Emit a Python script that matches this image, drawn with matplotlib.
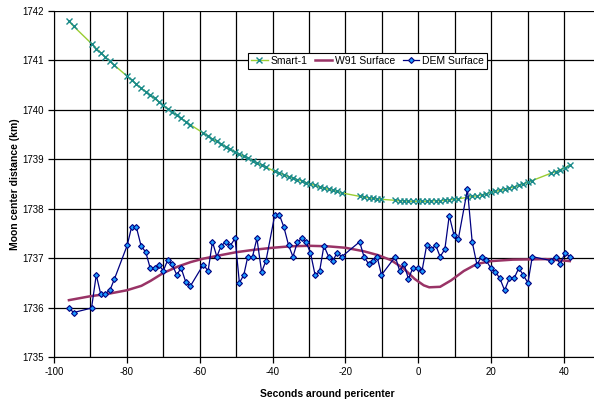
import numpy as np
import matplotlib.pyplot as plt

plt.rcParams['font.family'] = ['Liberation Sans', 'DejaVu Sans']
plt.rcParams['axes.unicode_minus'] = False

# sample times (s) shared by Smart-1 and DEM
t = [-95.9, -94.6,
     -89.7, -88.4, -87.2, -85.9, -84.6, -83.4,
     -79.9, -78.7, -77.4, -76.1, -74.8, -73.6, -72.4, -71.2, -70.0, -68.8,
     -67.6, -66.3, -65.1, -63.8, -62.6,
     -59.0, -57.7, -56.5, -55.3, -54.1, -52.8, -51.6, -50.3, -49.1, -47.9,
     -46.8, -45.5, -44.3, -43.0, -41.8,
     -39.4, -38.1, -36.9, -35.6, -34.4, -33.2, -32.0, -30.8, -29.6, -28.3,
     -27.1, -25.9, -24.6, -23.4, -22.3, -21.0,
     -16.1, -14.9, -13.6, -12.4, -11.3, -10.1,
     -6.3, -5.1, -3.9, -2.7, -1.5, -0.2, 1.0, 2.3, 3.6, 4.8, 6.0, 7.3, 8.5,
     9.8, 11.0,
     13.5, 14.8, 16.1, 17.4, 18.6, 19.9, 21.2, 22.4, 23.7, 25.0, 26.3, 27.6,
     28.8, 30.1, 31.3,
     36.5, 37.7, 39.0, 40.3, 41.6]

smart1 = [1741.79, 1741.69,
          1741.34, 1741.24, 1741.16, 1741.07, 1740.98, 1740.90,
          1740.68, 1740.60, 1740.52, 1740.44, 1740.37, 1740.30, 1740.23, 1740.16, 1740.09, 1740.02,
          1739.96, 1739.89, 1739.83, 1739.76, 1739.70,
          1739.53, 1739.47, 1739.41, 1739.36, 1739.31, 1739.25, 1739.20, 1739.15, 1739.10, 1739.06,
          1739.02, 1738.97, 1738.93, 1738.88, 1738.84,
          1738.76, 1738.72, 1738.69, 1738.65, 1738.62, 1738.59, 1738.56, 1738.53, 1738.50, 1738.47,
          1738.44, 1738.42, 1738.39, 1738.37, 1738.35, 1738.32,
          1738.25, 1738.24, 1738.22, 1738.21, 1738.20, 1738.19,
          1738.17, 1738.16, 1738.16, 1738.15, 1738.15, 1738.15, 1738.15, 1738.15, 1738.16, 1738.16,
          1738.16, 1738.17, 1738.18, 1738.19, 1738.20,
          1738.23, 1738.25, 1738.26, 1738.28, 1738.30, 1738.33, 1738.35, 1738.37, 1738.39, 1738.42,
          1738.44, 1738.47, 1738.50, 1738.54, 1738.57,
          1738.72, 1738.75, 1738.79, 1738.83, 1738.88]

dem = [1735.99, 1735.90,
       1735.99, 1736.66, 1736.28, 1736.28, 1736.36, 1736.58,
       1737.26, 1737.63, 1737.63, 1737.25, 1737.12, 1736.80, 1736.80, 1736.87, 1736.74, 1736.96,
       1736.88, 1736.66, 1736.80, 1736.51, 1736.43,
       1736.87, 1736.74, 1737.33, 1737.03, 1737.25, 1737.33, 1737.25, 1737.40, 1736.50, 1736.66,
       1737.03, 1737.03, 1737.40, 1736.72, 1736.95,
       1737.87, 1737.87, 1737.63, 1737.26, 1737.03, 1737.32, 1737.40, 1737.32, 1737.11, 1736.65,
       1736.73, 1737.25, 1737.03, 1736.95, 1737.11, 1737.03,
       1737.33, 1737.03, 1736.88, 1736.95, 1737.03, 1736.66,
       1737.03, 1736.74, 1736.88, 1736.58, 1736.80, 1736.80, 1736.73, 1737.26, 1737.18, 1737.26,
       1737.03, 1737.18, 1737.86, 1737.47, 1737.39,
       1738.39, 1737.33, 1736.87, 1737.03, 1736.96, 1736.80, 1736.72, 1736.59, 1736.35, 1736.59,
       1736.59, 1736.80, 1736.66, 1736.50, 1737.03,
       1736.95, 1737.03, 1736.88, 1737.11, 1737.03]

# W91 reference surface
t_w91 = [-95.9, -90, -85, -80, -76, -73.5, -70, -66, -62.5, -59, -55, -50, -45,
         -40, -35, -30, -25, -20, -15, -11, -7.5, -4, -1, 1.5, 3, 6, 9, 12.5,
         16, 20, 26, 35, 41.6]
w91 = [1736.15, 1736.23, 1736.28, 1736.35, 1736.44, 1736.54, 1736.70, 1736.83,
       1736.92, 1736.99, 1737.05, 1737.12, 1737.17, 1737.21, 1737.24, 1737.25,
       1737.24, 1737.21, 1737.14, 1737.06, 1736.96, 1736.79, 1736.58, 1736.45,
       1736.41, 1736.42, 1736.55, 1736.74, 1736.88, 1736.94, 1736.97, 1736.98,
       1736.94]

fig = plt.figure(figsize=(5.94, 4.0), dpi=100)
ax = fig.add_axes([54 / 594, 43 / 400, 546.4 / 594, 346 / 400])

ax.plot(t, smart1, color='#9acd32', lw=1.0, marker='x', ms=4.5, mew=1.0,
        mec='#1a8a8a', label='Smart-1', zorder=3)
ax.plot(t_w91, w91, color='#993366', lw=1.8, label='W91 Surface', zorder=4)
ax.plot(t, dem, color='#000080', lw=0.9, marker='D', ms=3.0, mew=0.8,
        mfc='#1e9bff', mec='#000080', label='DEM Surface', zorder=5)

ax.set_xlim(-100, 50)
ax.set_ylim(1735, 1742)
ax.set_xticks(np.arange(-100, 41, 20))
ax.set_xticks(np.arange(-100, 51, 10), minor=True)
ax.set_yticks(np.arange(1735, 1743, 1))
ax.grid(True, which='both', color='black', lw=0.9)
ax.set_axisbelow(True)
ax.tick_params(which='both', direction='out', length=4, width=0.9, labelsize=7)
ax.tick_params(axis='x', which='minor', length=0)
ax.spines['top'].set_visible(False)
ax.spines['right'].set_visible(False)

ax.set_xlabel('Seconds around pericenter', fontsize=7.5, fontweight='bold', labelpad=8)
ax.set_ylabel('Moon center distance (km)', fontsize=7.5, fontweight='bold')
ax.yaxis.set_label_coords(-0.062, 0.5)

leg = ax.legend(loc='upper left', bbox_to_anchor=(0.355, 0.879), borderaxespad=0,
                ncol=3, fontsize=7.5, fancybox=False, framealpha=1,
                edgecolor='black', handlelength=1.6, handletextpad=0.3,
                columnspacing=0.7, borderpad=0.3)
leg.get_frame().set_linewidth(0.8)

fig.savefig('out.png', dpi=100)
